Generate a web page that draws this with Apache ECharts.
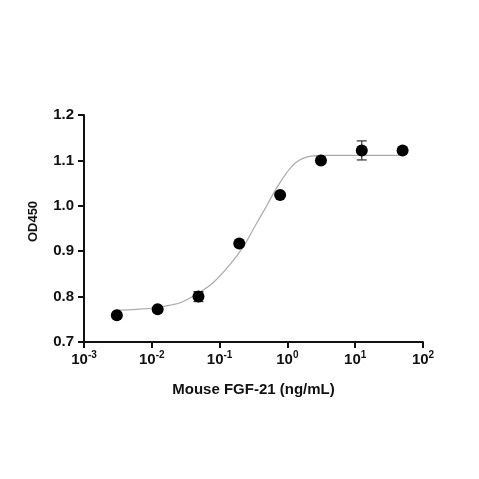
<!DOCTYPE html>
<html><head><meta charset="utf-8">
<script src="https://cdn.jsdelivr.net/npm/echarts@6/dist/echarts.min.js"></script>
<style>html,body{margin:0;padding:0;background:#fff}#c{width:479px;height:479px}</style>
</head><body><div id="c"></div>
<script>
// Measured points (concentration ng/mL, OD450)
const concentrations = [0.00305, 0.0122, 0.0488, 0.195, 0.781, 3.125, 12.5, 50];
const od450 = [0.759, 0.772, 0.800, 0.917, 1.024, 1.100, 1.122, 1.122];
const errors = [0.000, 0.000, 0.011, 0.000, 0.000, 0.000, 0.021, 0.000];
// Fitted curve
const curveX = [0.0030, 0.0060, 0.0120, 0.0200, 0.0257, 0.0355, 0.0479, 0.0794, 0.141, 0.224, 0.347, 0.490, 0.692, 0.966, 1.35, 2.14, 3.72, 10, 49];
const curveY = [0.770, 0.772, 0.776, 0.782, 0.786, 0.796, 0.807, 0.830, 0.870, 0.910, 0.960, 0.999, 1.039, 1.072, 1.096, 1.109, 1.111, 1.111, 1.111];
const yTicks = [0.7, 0.8, 0.9, 1.0, 1.1, 1.2];

const chart = echarts.init(document.getElementById('c'));
const font = 'Liberation Sans, Arial, sans-serif';
chart.setOption({
  animation: false,
  grid: {left: 84, right: 56, top: 115, bottom: 137, containLabel: false},
  xAxis: {
    type: 'log', logBase: 10, min: 0.001, max: 100,
    name: 'Mouse FGF-21 (ng/mL)', nameLocation: 'middle', nameGap: 40,
    nameTextStyle: {fontFamily: font, fontSize: 15, fontWeight: 'bold', color: '#111'},
    axisLine: {lineStyle: {color: '#111', width: 2}},
    axisTick: {show: true, length: 6, lineStyle: {color: '#111', width: 2}},
    minorTick: {show: false},
    splitLine: {show: false},
    axisLabel: {
      margin: 8,
      formatter: function (v) {
        const e = Math.round(Math.log10(v));
        return '{b|10}{s|' + e + '}';
      },
      rich: {
        b: {fontFamily: font, fontSize: 15, fontWeight: 'bold', color: '#111'},
        s: {fontFamily: font, fontSize: 10, fontWeight: 'bold', color: '#111', padding: [0, 0, 9, 0]}
      }
    }
  },
  yAxis: {
    type: 'value', min: 0.7, max: 1.2, interval: 0.1,
    name: 'OD450', nameLocation: 'middle', nameGap: 44, nameRotate: 90,
    nameTextStyle: {fontFamily: font, fontSize: 13, fontWeight: 'bold', color: '#111', padding: [0, 0, 0, 14]},
    axisLine: {show: true, lineStyle: {color: '#111', width: 2}},
    axisTick: {show: true, length: 6, lineStyle: {color: '#111', width: 2}},
    splitLine: {show: false},
    axisLabel: {
      margin: 10, fontFamily: font, fontSize: 15, fontWeight: 'bold', color: '#111',
      formatter: v => v.toFixed(1)
    }
  },
  series: [
    {
      type: 'line', smooth: 0.4, symbol: 'none',
      data: curveX.map((x, i) => [x, curveY[i]]),
      lineStyle: {color: '#aaaaaa', width: 1.2}, z: 1
    },
    {
      type: 'custom',
      data: concentrations.map((x, i) => [x, od450[i] - errors[i], od450[i] + errors[i]]),
      renderItem: function (params, api) {
        const lo = api.coord([api.value(0), api.value(1)]);
        const hi = api.coord([api.value(0), api.value(2)]);
        if (Math.abs(hi[1] - lo[1]) < 1) return null;
        const w = 5;
        const st = {stroke: '#333', lineWidth: 1.2};
        return {type: 'group', children: [
          {type: 'line', shape: {x1: lo[0], y1: lo[1], x2: hi[0], y2: hi[1]}, style: st},
          {type: 'line', shape: {x1: lo[0] - w, y1: lo[1], x2: lo[0] + w, y2: lo[1]}, style: st},
          {type: 'line', shape: {x1: hi[0] - w, y1: hi[1], x2: hi[0] + w, y2: hi[1]}, style: st}
        ]};
      },
      z: 2
    },
    {
      type: 'scatter', symbol: 'circle', symbolSize: 12,
      data: concentrations.map((x, i) => [x, od450[i]]),
      itemStyle: {color: '#000', opacity: 1}, z: 3
    }
  ]
});
</script></body></html>
